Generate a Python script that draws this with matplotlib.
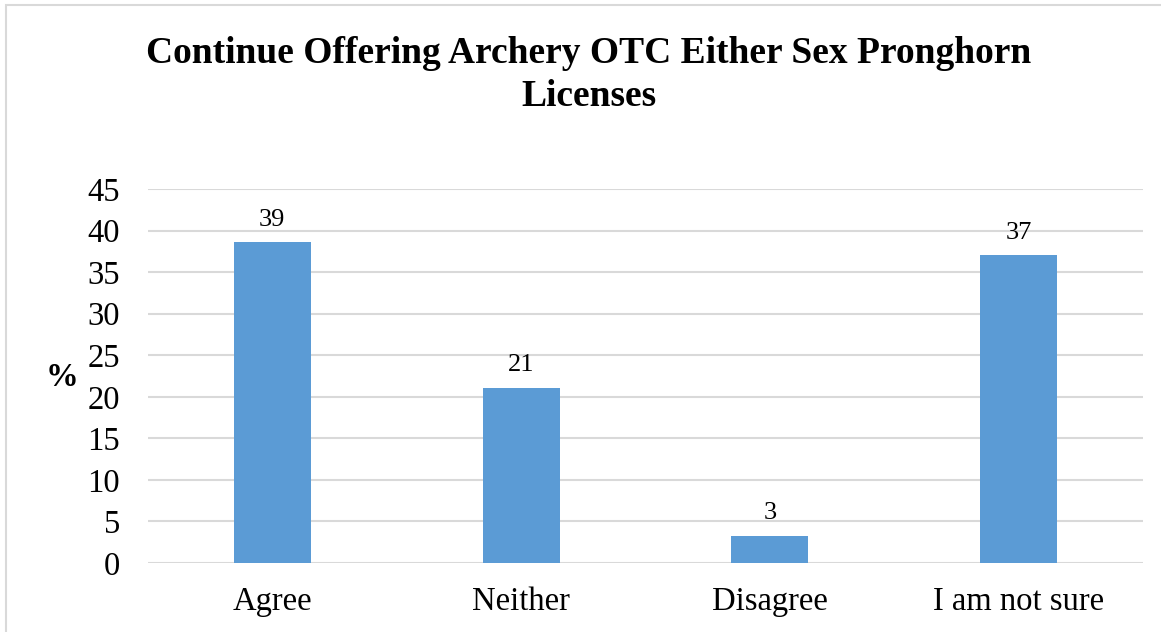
import matplotlib
matplotlib.use("Agg")
import matplotlib.pyplot as plt
from matplotlib.patches import Rectangle

categories = ["Agree", "Neither", "Disagree", "I am not sure"]
values = [38.6, 21.1, 3.3, 37.0]
yticks = [0, 5, 10, 15, 20, 25, 30, 35, 40, 45]
title = "Continue Offering Archery OTC Either Sex Pronghorn\nLicenses"

plt.rcParams["font.family"] = ["Liberation Serif", "DejaVu Serif"]

W, H = 1161, 632
fig = plt.figure(figsize=(W / 100, H / 100), dpi=100)
fig.patch.set_facecolor("white")

# chart frame (left/top visible)
fig.add_artist(Rectangle((6 / W, -0.05), 1.2, 1 - 5 / H + 0.05, transform=fig.transFigure,
                         fill=False, edgecolor="#D9D9D9", linewidth=1.5))

ax = fig.add_axes([148 / W, 1 - 563 / H, (1143 - 148) / W, (563 - 189) / H])
x = range(len(categories))
ax.bar(x, values, width=0.31, color="#5B9BD5", zorder=3)
for xi, v in zip(x, values):
    ax.text(xi, v + 1.4, f"{v:.0f}", ha="center", va="bottom", fontsize=19)

ax.set_xlim(-0.5, 3.5)
ax.set_ylim(0, 45)
ax.set_yticks(yticks)
ax.set_yticklabels([str(t) for t in yticks], fontsize=23.5)
ax.set_xticks(list(x))
ax.set_xticklabels(categories, fontsize=23.5)
ax.tick_params(axis="both", length=0)
ax.tick_params(axis="y", pad=20)
ax.tick_params(axis="x", pad=17)
ax.yaxis.grid(True, color="#D9D9D9", linewidth=1.5, zorder=0)
ax.set_axisbelow(True)
for s in ax.spines.values():
    s.set_visible(False)

fig.text(62 / W, 1 - 378 / H, "%", fontsize=23.5, fontweight="bold", ha="center", va="center")
fig.text(589 / W, 1 - 75 / H, title, fontsize=27, fontweight="bold", ha="center", va="center",
         linespacing=1.27)

fig.savefig("out.png", dpi=100, facecolor="white")
